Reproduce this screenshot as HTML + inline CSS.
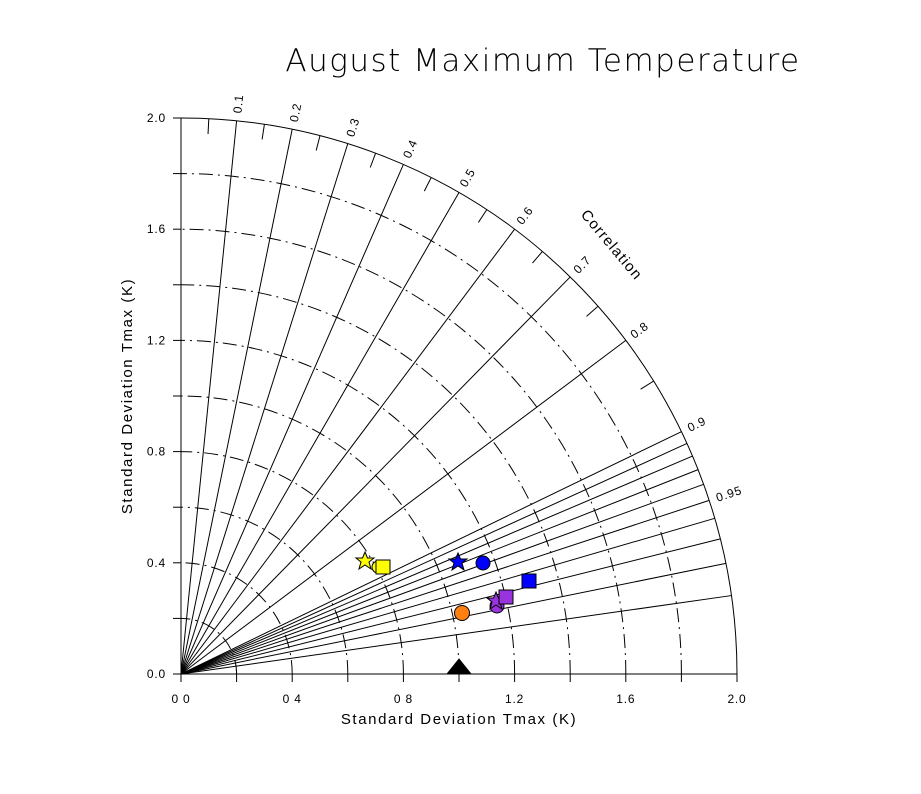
<!DOCTYPE html>
<html><head><meta charset="utf-8"><style>
html,body{margin:0;padding:0;background:#fff;}
svg{display:block;font-family:"Liberation Sans",sans-serif;}
</style></head><body>
<svg id="s" width="921" height="794" viewBox="0 0 921 794" xmlns="http://www.w3.org/2000/svg">
<text x="543" y="71" font-size="31" text-anchor="middle" fill="#000" letter-spacing="1.5" style="font-family:'DejaVu Sans','Liberation Sans',sans-serif;font-weight:200">August Maximum Temperature</text>
<text x="459" y="724" font-size="15" text-anchor="middle" letter-spacing="1.6">Standard Deviation Tmax (K)</text>
<text transform="translate(132,396) rotate(-90)" font-size="15" text-anchor="middle" letter-spacing="1.6">Standard Deviation Tmax (K)</text>
<text transform="translate(608,248) rotate(50)" font-size="15" text-anchor="middle" letter-spacing="1.2">Correlation</text>
<g id="g" stroke="#000" fill="none" stroke-width="1"></g>
<g id="t" font-size="12" fill="#000" letter-spacing="0.8"></g>
<g stroke="#000" stroke-width="1">
<polygon points="447,674 471,674 459,659" fill="#000"/>
<polygon points="365,552 367.5,558 374,558 369,562 371,569 365,565 359,569 361,562 356,558 362.5,558" fill="#ffff00"/>
<circle cx="378" cy="567" r="6" fill="#ffff00"/>
<rect x="376" y="560" width="14" height="14" fill="#ffff00"/>
<polygon points="458,553 460.5,559 467,559 462,563 464,570 458,566 452,570 454,563 449,559 455.5,559" fill="#0000ff"/>
<circle cx="483" cy="563" r="7" fill="#0000ff"/>
<rect x="522" y="574" width="14" height="14" fill="#0000ff"/>
<circle cx="497" cy="606" r="7" fill="#9933dd"/>
<polygon points="496,592 498.5,598 505,598 500,602 502,609 496,605 490,609 492,602 487,598 493.5,598" fill="#9933dd"/>
<rect x="499" y="590" width="14" height="14" fill="#9933dd"/>
<circle cx="462" cy="613" r="7.5" fill="#ff7f10"/>
</g>
</svg>
<script>
var ox=181,oy=674,S=278,g=document.getElementById('g'),t=document.getElementById('t'),NS="http://www.w3.org/2000/svg";
function el(p,tag,a,txt){var e=document.createElementNS(NS,tag);for(var k in a)e.setAttribute(k,a[k]);if(txt)e.textContent=txt;p.appendChild(e);return e;}
function P(r,a){return [ox+r*S*Math.cos(a),oy-r*S*Math.sin(a)];}
el(g,'line',{x1:ox,y1:oy,x2:ox+2*S,y2:oy});
el(g,'line',{x1:ox,y1:oy,x2:ox,y2:oy-2*S});
el(g,'path',{d:'M'+(ox+2*S)+' '+oy+' A'+2*S+' '+2*S+' 0 0 0 '+ox+' '+(oy-2*S)});
for(var i=1;i<=9;i++){var r=i*0.2*S;
 el(g,'path',{d:'M'+(ox+r)+' '+oy+' A'+r+' '+r+' 0 0 0 '+ox+' '+(oy-r),'stroke-dasharray':'14,5,2,5'});}
for(var i=0;i<=10;i++){var d=i*0.2*S;
 el(g,'line',{x1:ox+d,y1:oy,x2:ox+d,y2:oy+8});
 el(g,'line',{x1:ox-8,y1:oy-d,x2:ox,y2:oy-d});}
var cs=[0.1,0.2,0.3,0.4,0.5,0.6,0.7,0.8,0.9,0.91,0.92,0.93,0.94,0.95,0.96,0.97,0.98,0.99];
cs.forEach(function(c){var a=Math.acos(c),p=P(2,a);el(g,'line',{x1:ox,y1:oy,x2:p[0],y2:p[1]});});
for(var c=0.05;c<0.9;c+=0.1){var a=Math.acos(c),p=P(2,a),q=P(1.945,a);el(g,'line',{x1:p[0],y1:p[1],x2:q[0],y2:q[1]});}
[0.1,0.2,0.3,0.4,0.5,0.6,0.7,0.8,0.9,0.95].forEach(function(c){var a=Math.acos(c),p=P(2.02,a);
 el(t,'text',{transform:'translate('+p[0]+','+p[1]+') rotate('+(-a*180/Math.PI)+')',x:2,y:4},String(c));});
var xl=['0 0','0 4','0 8','1.2','1.6','2.0'];
for(var i=0;i<6;i++){el(t,'text',{x:ox+i*0.4*S,y:oy+29,'text-anchor':'middle'},xl[i]);
 el(t,'text',{x:ox-15,y:oy-i*0.4*S+4,'text-anchor':'end'},(i*0.4).toFixed(1));}
</script>
</body></html>
